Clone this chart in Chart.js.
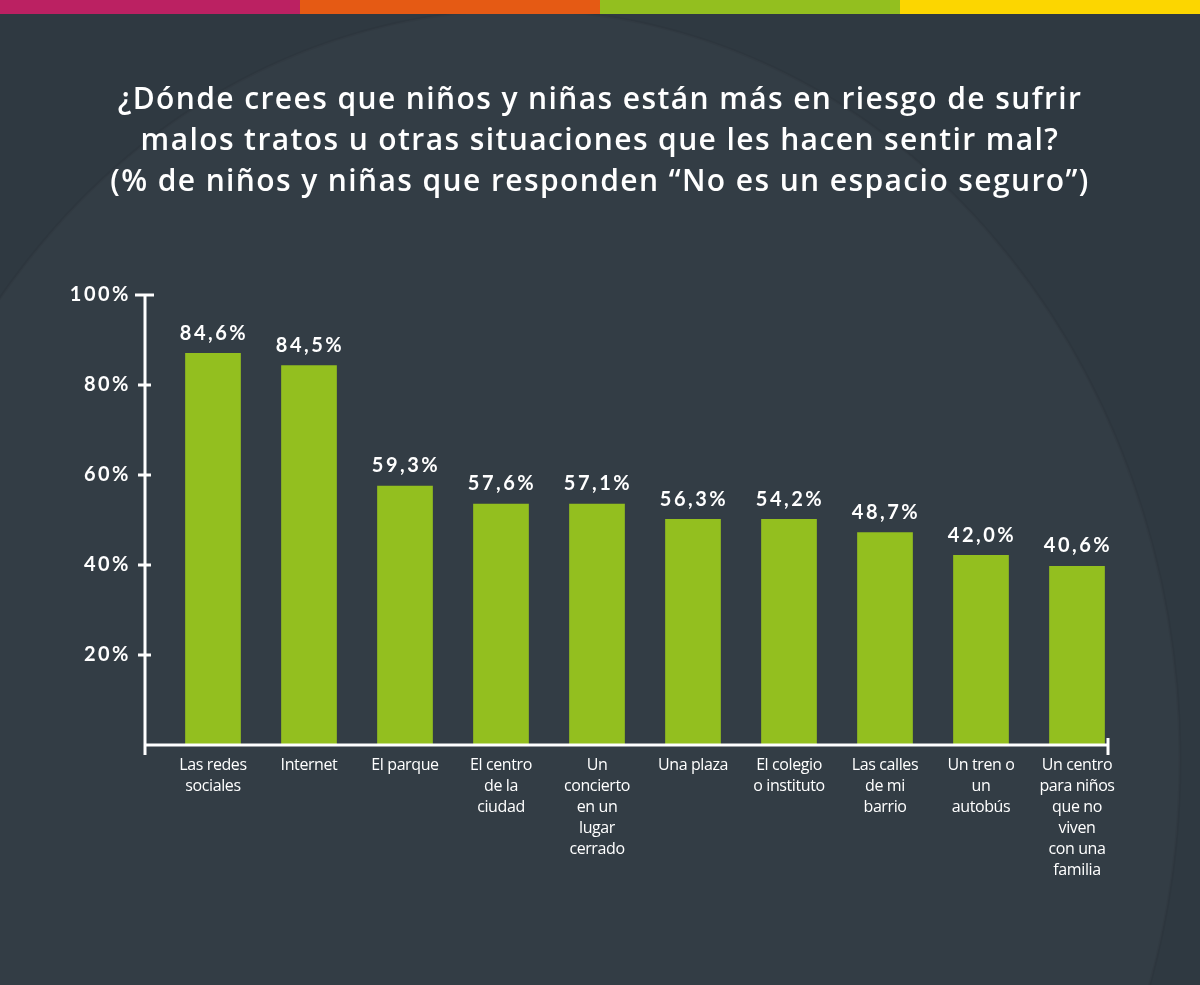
<!DOCTYPE html>
<html>
<head>
<meta charset="utf-8">
<script src="https://cdn.jsdelivr.net/npm/chart.js@4"></script>
<style>
  html, body { margin: 0; padding: 0; background: #313b44; }
  #wrap { position: relative; width: 1200px; height: 985px; }
</style>
</head>
<body>
<div id="wrap"><canvas id="chart" width="1200" height="985"></canvas></div>
<script>
// categories (multi-line as printed under the bars)
const categories = [
  ['Las redes', 'sociales'],
  ['Internet'],
  ['El parque'],
  ['El centro', 'de la', 'ciudad'],
  ['Un', 'concierto', 'en un', 'lugar', 'cerrado'],
  ['Una plaza'],
  ['El colegio', 'o instituto'],
  ['Las calles', 'de mi', 'barrio'],
  ['Un tren o', 'un', 'autobús'],
  ['Un centro', 'para niños', 'que no', 'viven', 'con una', 'familia']
];
// bar heights as drawn in the picture (%)
const barHeights = [87.1, 84.4, 57.6, 53.6, 53.6, 50.2, 50.2, 47.3, 42.2, 39.8];
// values printed above the bars
const valueLabels = ['84,6%', '84,5%', '59,3%', '57,6%', '57,1%', '56,3%', '54,2%', '48,7%', '42,0%', '40,6%'];
const yTicks = [20, 40, 60, 80, 100];
const titleLines = [
  '¿Dónde crees que niños y niñas están más en riesgo de sufrir',
  'malos tratos u otras situaciones que les hacen sentir mal?',
  '(% de niños y niñas que responden “No es un espacio seguro”)'
];
const stripeColors = ['#bb2162', '#e55a14', '#93bf1f', '#fcd600'];

const backdrop = {
  id: 'backdrop',
  beforeDraw(chart) {
    const { ctx, width, height } = chart;
    ctx.save();
    ctx.fillStyle = '#2f3941';
    ctx.fillRect(0, 0, width, height);
    // faint curved shape in the background
    ctx.fillStyle = 'rgba(255,255,255,0.025)';
    ctx.beginPath();
    ctx.ellipse(520, 760, 660, 750, 0, 0, Math.PI * 2);
    ctx.fill();
    ctx.strokeStyle = 'rgba(0,0,0,0.04)';
    ctx.lineWidth = 3;
    ctx.stroke();
    // colour stripe
    stripeColors.forEach((c, i) => {
      ctx.fillStyle = c;
      ctx.fillRect(i * width / 4, 0, width / 4, 14);
    });
    // title
    ctx.fillStyle = '#ffffff';
    ctx.font = '600 30px "Open Sans"';
    ctx.letterSpacing = '1.4px';
    ctx.textAlign = 'center';
    ctx.textBaseline = 'middle';
    titleLines.forEach((t, i) => ctx.fillText(t, 600, 100 + i * 41));
    ctx.restore();
  },
  afterDatasetsDraw(chart) {
    const { ctx } = chart;
    const x = chart.scales.x, y = chart.scales.y;
    const axisX = 145, y0 = y.getPixelForValue(0), endX = 1108;
    ctx.save();
    ctx.strokeStyle = '#ffffff';
    ctx.lineWidth = 3;
    ctx.beginPath();
    ctx.moveTo(axisX, y.getPixelForValue(100));
    ctx.lineTo(axisX, y0 + 10);
    ctx.moveTo(axisX, y0);
    ctx.lineTo(endX, y0);
    ctx.moveTo(endX, y0 - 7);
    ctx.lineTo(endX, y0 + 10);
    ctx.stroke();
    // y ticks and labels
    ctx.font = 'bold 20px Lato';
    ctx.letterSpacing = '2.5px';
    ctx.fillStyle = '#ffffff';
    ctx.textAlign = 'right';
    ctx.textBaseline = 'middle';
    yTicks.forEach(v => {
      const py = y.getPixelForValue(v);
      ctx.beginPath();
      ctx.moveTo(v === 100 ? 135 : 138, py);
      ctx.lineTo(v === 100 ? 154 : 151, py);
      ctx.stroke();
      ctx.fillText(v + '%', 131, py);
    });
    // value labels
    ctx.textAlign = 'center';
    ctx.font = 'bold 20px Lato';
    const meta = chart.getDatasetMeta(0);
    meta.data.forEach((bar, i) => {
      ctx.fillText(valueLabels[i], bar.x + 1, bar.y - 20);
    });
    // category labels
    ctx.letterSpacing = '-0.4px';
    ctx.font = '16px "Open Sans"';
    ctx.textBaseline = 'middle';
    categories.forEach((lines, i) => {
      const cx = x.getPixelForValue(i);
      lines.forEach((ln, j) => ctx.fillText(ln, cx, 765 + j * 21));
    });
    ctx.restore();
  }
};

new Chart(document.getElementById('chart'), {
  type: 'bar',
  data: {
    labels: categories.map(c => c.join(' ')),
    datasets: [{
      data: barHeights,
      backgroundColor: '#93bf1f',
      borderWidth: 0,
      categoryPercentage: 1,
      barPercentage: 0.58
    }]
  },
  options: {
    responsive: false,
    animation: false,
    layout: { padding: { left: 165, right: 75, top: 295, bottom: 240 } },
    plugins: { legend: { display: false }, tooltip: { enabled: false } },
    scales: {
      x: { display: false },
      y: { display: false, min: 0, max: 100 }
    }
  },
  plugins: [backdrop]
});
</script>
</body>
</html>
